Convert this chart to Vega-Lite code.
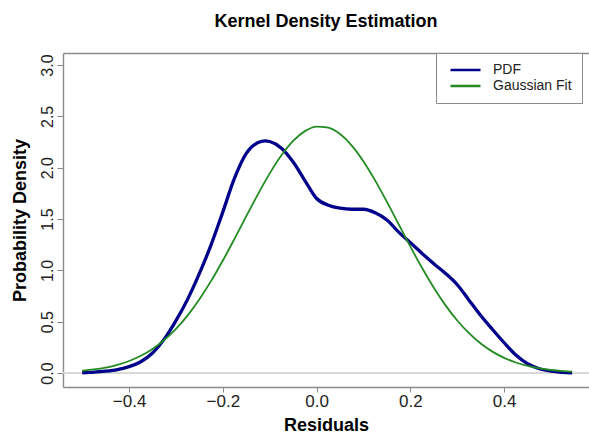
{
  "$schema": "https://vega.github.io/schema/vega-lite/v6.json",
  "width": 526,
  "height": 334,
  "autosize": "none",
  "padding": {"left": 63, "top": 53, "right": 0, "bottom": 48},
  "background": "white",
  "title": {
    "text": "Kernel Density Estimation",
    "font": "Liberation Sans",
    "fontSize": 18,
    "fontWeight": "bold",
    "color": "#000000",
    "anchor": "middle",
    "frame": "group",
    "baseline": "alphabetic",
    "offset": 8
  },
  "config": {
    "view": {"stroke": null},
    "font": "Liberation Sans",
    "axis": {
      "grid": false,
      "domainColor": "#8a8a8a",
      "domainWidth": 1.4,
      "tickColor": "#8a8a8a",
      "tickWidth": 1,
      "labelFont": "Liberation Sans",
      "labelColor": "#222222",
      "titleFont": "Liberation Sans",
      "titleFontSize": 18,
      "titleFontWeight": "bold",
      "titleColor": "#000000"
    }
  },
  "data": {
    "values": [
      {"x": -0.5, "density": 0.003, "series": "PDF"},
      {"x": -0.475, "density": 0.008, "series": "PDF"},
      {"x": -0.45, "density": 0.018, "series": "PDF"},
      {"x": -0.425, "density": 0.034, "series": "PDF"},
      {"x": -0.4, "density": 0.062, "series": "PDF"},
      {"x": -0.375, "density": 0.11, "series": "PDF"},
      {"x": -0.35, "density": 0.195, "series": "PDF"},
      {"x": -0.325, "density": 0.33, "series": "PDF"},
      {"x": -0.3, "density": 0.51, "series": "PDF"},
      {"x": -0.275, "density": 0.72, "series": "PDF"},
      {"x": -0.25, "density": 0.97, "series": "PDF"},
      {"x": -0.225, "density": 1.25, "series": "PDF"},
      {"x": -0.2, "density": 1.57, "series": "PDF"},
      {"x": -0.175, "density": 1.9, "series": "PDF"},
      {"x": -0.15, "density": 2.14, "series": "PDF"},
      {"x": -0.125, "density": 2.245, "series": "PDF"},
      {"x": -0.11, "density": 2.262, "series": "PDF"},
      {"x": -0.1, "density": 2.255, "series": "PDF"},
      {"x": -0.075, "density": 2.19, "series": "PDF"},
      {"x": -0.05, "density": 2.055, "series": "PDF"},
      {"x": -0.025, "density": 1.875, "series": "PDF"},
      {"x": 0.0, "density": 1.7, "series": "PDF"},
      {"x": 0.025, "density": 1.635, "series": "PDF"},
      {"x": 0.05, "density": 1.605, "series": "PDF"},
      {"x": 0.075, "density": 1.595, "series": "PDF"},
      {"x": 0.1, "density": 1.595, "series": "PDF"},
      {"x": 0.125, "density": 1.56, "series": "PDF"},
      {"x": 0.15, "density": 1.49, "series": "PDF"},
      {"x": 0.175, "density": 1.373, "series": "PDF"},
      {"x": 0.2, "density": 1.27, "series": "PDF"},
      {"x": 0.225, "density": 1.165, "series": "PDF"},
      {"x": 0.25, "density": 1.065, "series": "PDF"},
      {"x": 0.275, "density": 0.97, "series": "PDF"},
      {"x": 0.3, "density": 0.86, "series": "PDF"},
      {"x": 0.325, "density": 0.71, "series": "PDF"},
      {"x": 0.35, "density": 0.56, "series": "PDF"},
      {"x": 0.375, "density": 0.425, "series": "PDF"},
      {"x": 0.4, "density": 0.295, "series": "PDF"},
      {"x": 0.425, "density": 0.175, "series": "PDF"},
      {"x": 0.45, "density": 0.09, "series": "PDF"},
      {"x": 0.475, "density": 0.042, "series": "PDF"},
      {"x": 0.5, "density": 0.018, "series": "PDF"},
      {"x": 0.525, "density": 0.007, "series": "PDF"},
      {"x": 0.545, "density": 0.003, "series": "PDF"},

      {"x": -0.5, "density": 0.0223, "series": "Gaussian Fit"},
      {"x": -0.475, "density": 0.0349, "series": "Gaussian Fit"},
      {"x": -0.45, "density": 0.0534, "series": "Gaussian Fit"},
      {"x": -0.425, "density": 0.08, "series": "Gaussian Fit"},
      {"x": -0.4, "density": 0.1173, "series": "Gaussian Fit"},
      {"x": -0.375, "density": 0.1678, "series": "Gaussian Fit"},
      {"x": -0.35, "density": 0.2348, "series": "Gaussian Fit"},
      {"x": -0.325, "density": 0.3213, "series": "Gaussian Fit"},
      {"x": -0.3, "density": 0.4297, "series": "Gaussian Fit"},
      {"x": -0.275, "density": 0.5618, "series": "Gaussian Fit"},
      {"x": -0.25, "density": 0.7183, "series": "Gaussian Fit"},
      {"x": -0.225, "density": 0.8973, "series": "Gaussian Fit"},
      {"x": -0.2, "density": 1.096, "series": "Gaussian Fit"},
      {"x": -0.175, "density": 1.3089, "series": "Gaussian Fit"},
      {"x": -0.15, "density": 1.5276, "series": "Gaussian Fit"},
      {"x": -0.125, "density": 1.7431, "series": "Gaussian Fit"},
      {"x": -0.1, "density": 1.9447, "series": "Gaussian Fit"},
      {"x": -0.075, "density": 2.1207, "series": "Gaussian Fit"},
      {"x": -0.05, "density": 2.2608, "series": "Gaussian Fit"},
      {"x": -0.025, "density": 2.356, "series": "Gaussian Fit"},
      {"x": 0.0, "density": 2.4002, "series": "Gaussian Fit"},
      {"x": 0.025, "density": 2.3904, "series": "Gaussian Fit"},
      {"x": 0.05, "density": 2.3273, "series": "Gaussian Fit"},
      {"x": 0.075, "density": 2.2151, "series": "Gaussian Fit"},
      {"x": 0.1, "density": 2.0608, "series": "Gaussian Fit"},
      {"x": 0.125, "density": 1.8743, "series": "Gaussian Fit"},
      {"x": 0.15, "density": 1.6667, "series": "Gaussian Fit"},
      {"x": 0.175, "density": 1.4488, "series": "Gaussian Fit"},
      {"x": 0.2, "density": 1.2311, "series": "Gaussian Fit"},
      {"x": 0.225, "density": 1.0225, "series": "Gaussian Fit"},
      {"x": 0.25, "density": 0.8305, "series": "Gaussian Fit"},
      {"x": 0.275, "density": 0.6592, "series": "Gaussian Fit"},
      {"x": 0.3, "density": 0.5116, "series": "Gaussian Fit"},
      {"x": 0.325, "density": 0.3881, "series": "Gaussian Fit"},
      {"x": 0.35, "density": 0.2879, "series": "Gaussian Fit"},
      {"x": 0.375, "density": 0.2087, "series": "Gaussian Fit"},
      {"x": 0.4, "density": 0.1479, "series": "Gaussian Fit"},
      {"x": 0.425, "density": 0.1025, "series": "Gaussian Fit"},
      {"x": 0.45, "density": 0.0694, "series": "Gaussian Fit"},
      {"x": 0.475, "density": 0.0459, "series": "Gaussian Fit"},
      {"x": 0.5, "density": 0.0297, "series": "Gaussian Fit"},
      {"x": 0.525, "density": 0.0188, "series": "Gaussian Fit"},
      {"x": 0.545, "density": 0.0128, "series": "Gaussian Fit"}
    ]
  },
  "layer": [
    {
      "mark": {"type": "rule", "color": "#d9d9d9", "strokeWidth": 1.5},
      "encoding": {
        "y": {"datum": 0, "type": "quantitative"}
      }
    },
    {
      "transform": [{"filter": "datum.series === 'PDF'"}],
      "mark": {"type": "line", "strokeWidth": 3.3, "interpolate": "monotone", "clip": true},
      "encoding": {
        "x": {
          "field": "x",
          "type": "quantitative",
          "scale": {"domain": [-0.541, 0.581], "nice": false, "zero": false},
          "axis": {
            "orient": "bottom",
            "title": "Residuals",
            "values": [-0.4, -0.2, 0, 0.2, 0.4],
            "format": ".1f",
            "labelFontSize": 17,
            "tickSize": 5,
            "labelPadding": 1,
            "titleY": 43,
            "titleBaseline": "alphabetic"
          }
        },
        "y": {
          "field": "density",
          "type": "quantitative",
          "scale": {"domain": [-0.136, 3.117], "nice": false, "zero": false},
          "axis": {
            "title": "Probability Density",
            "values": [0, 0.5, 1, 1.5, 2, 2.5, 3],
            "format": ".1f",
            "labelFontSize": 16,
            "labelAngle": -90,
            "labelAlign": "center",
            "labelBaseline": "alphabetic",
            "tickSize": 6,
            "labelPadding": 5,
            "titleX": -38,
            "titleY": 167,
            "titleAngle": -90,
            "titleAlign": "center",
            "titleBaseline": "alphabetic"
          }
        },
        "color": {
          "field": "series",
          "type": "nominal",
          "scale": {"domain": ["PDF", "Gaussian Fit"], "range": ["#00008b", "#228b22"]},
          "legend": {
            "title": null,
            "orient": "none",
            "legendX": 373,
            "legendY": 0,
            "fillColor": "white",
            "strokeColor": "#8a8a8a",
            "padding": 10,
            "symbolOffset": 3,
            "symbolType": "stroke",
            "symbolSize": 900,
            "symbolStrokeWidth": 2.5,
            "clipHeight": 14,
            "labelFont": "Liberation Sans",
            "labelFontSize": 14,
            "labelColor": "#222222",
            "labelOffset": 11,
            "rowPadding": 2
          }
        }
      }
    },
    {
      "transform": [{"filter": "datum.series === 'Gaussian Fit'"}],
      "mark": {"type": "line", "strokeWidth": 1.8, "interpolate": "monotone", "clip": true},
      "encoding": {
        "x": {
          "field": "x",
          "type": "quantitative",
          "axis": {
            "orient": "top",
            "title": null,
            "labels": false,
            "ticks": false,
            "domain": true
          }
        },
        "y": {"field": "density", "type": "quantitative"},
        "color": {"field": "series", "type": "nominal"}
      }
    }
  ],
  "resolve": {"axis": {"x": "independent"}}
}
